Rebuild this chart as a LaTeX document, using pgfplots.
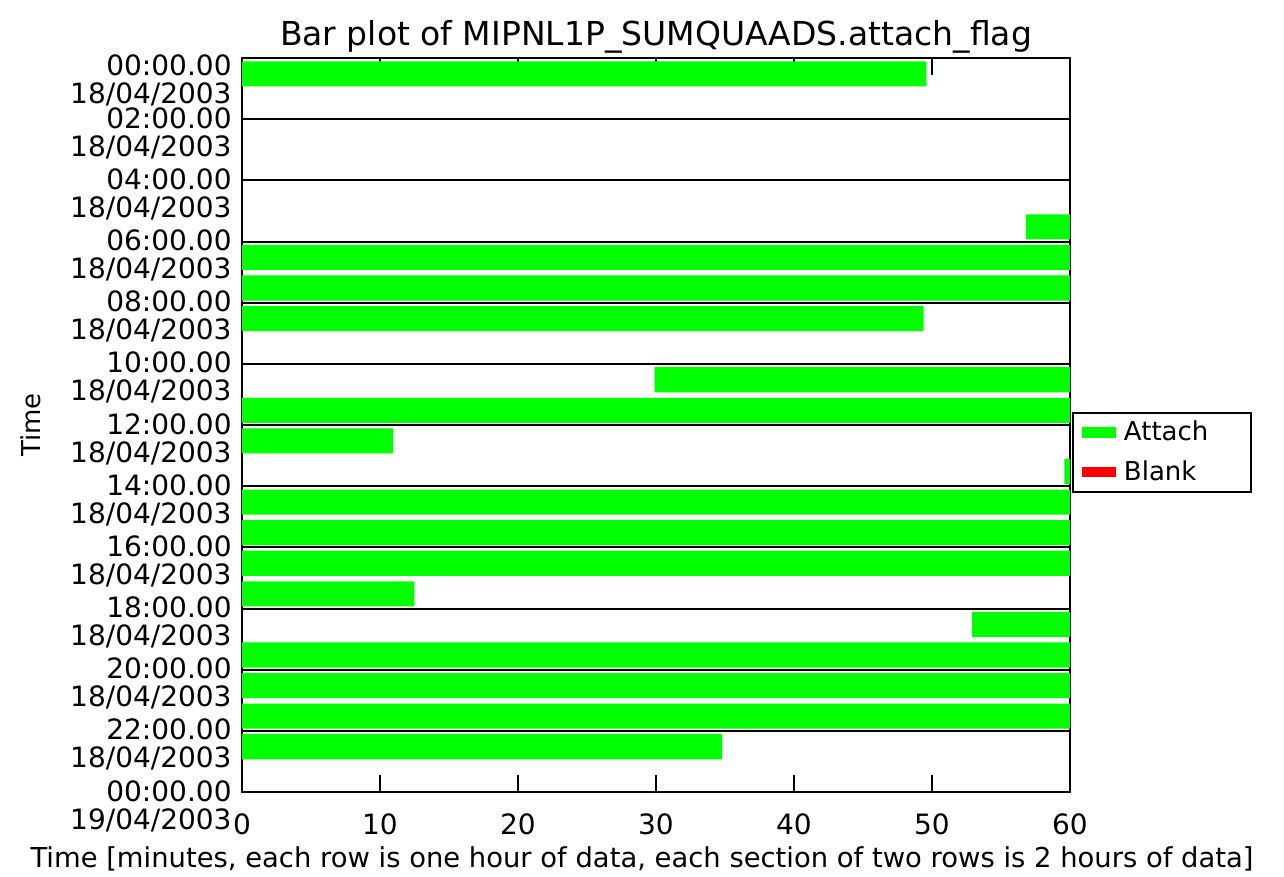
\documentclass[border=0pt]{standalone}
\usepackage{fontspec}
\setmainfont{DejaVu Sans}
\usepackage{pgfplots}
\pgfplotsset{compat=1.18}
\definecolor{attach}{RGB}{0,255,0}
\definecolor{blank}{RGB}{255,0,0}
\begin{document}
\begin{tikzpicture}
\begin{axis}[
  name=ax,
  scale only axis, width=414bp, height=367bp,
  xmin=0, xmax=60, ymin=0, ymax=24, y dir=reverse,
  xbar stacked, bar width=0.82,
  axis line style={line width=1bp, black},
  xtick={0,10,...,60},
  xtick pos=both, tick align=inside, major tick length=8.5bp,
  xtick style={line width=1bp, black},
  /pgf/number format/assume math mode=true,
  xticklabel style={font=\fontsize{14bp}{14bp}\selectfont, inner sep=0pt, yshift=-10.5bp},
  ytick={2,4,...,24},
  yticklabels={{02:00.00\\18/04/2003},{04:00.00\\18/04/2003},{06:00.00\\18/04/2003},
    {08:00.00\\18/04/2003},{10:00.00\\18/04/2003},{12:00.00\\18/04/2003},
    {14:00.00\\18/04/2003},{16:00.00\\18/04/2003},{18:00.00\\18/04/2003},
    {20:00.00\\18/04/2003},{22:00.00\\18/04/2003},{00:00.00\\19/04/2003}},
  extra y ticks={0},
  extra y tick labels={{00:00.00\\18/04/2003}},
  extra y tick style={yticklabel style={yshift=-4bp}},
  ytick style={draw=none},
  yticklabel style={align=right, anchor=east, inner sep=0pt, xshift=-5bp, yshift=-7bp,
    font=\fontsize{14bp}{14bp}\selectfont},
  ymajorgrids, grid style={line width=1bp, black},
  every axis title shift=0pt,
  title={Bar plot of MIPNL1P\_SUMQUAADS.attach\_flag},
  title style={at={(axis description cs:0.5,1.0177)}, anchor=base,
    inner sep=0pt, font=\fontsize{16.5bp}{16.5bp}\selectfont},
  xlabel={Time [minutes, each row is one hour of data, each section of two rows is 2 hours of data]},
  xlabel style={at={(axis description cs:0.4831,-0.0654)}, anchor=north,
    font=\fontsize{13.7bp}{13.7bp}\selectfont},
  ylabel={Time},
  ylabel style={at={(axis description cs:-0.2548,0.5)}, anchor=center,
    font=\fontsize{13bp}{13bp}\selectfont},
  legend cell align=left,
  legend image code/.code={\fill (0bp,-2.6bp) rectangle (17bp,2.6bp);},
  legend style={at={(axis description cs:1.0024,0.5177)}, anchor=north west,
    draw=black, line width=1bp, font=\fontsize{13bp}{13bp}\selectfont,
    inner xsep=4.5bp, inner ysep=2bp, row sep=4.6bp,
    /tikz/every odd column/.append style={column sep=2bp}},
]
% invisible offsets (start of each bar, minutes)
\addplot[draw=none, fill=none, forget plot] coordinates {
(0,0.52) (0,1.52) (0,2.52) (0,3.52) (0,4.52) (56.8,5.52) (0,6.52) (0,7.52)
(0,8.52) (0,9.52) (29.9,10.52) (0,11.52) (0,12.52) (59.6,13.52) (0,14.52) (0,15.52)
(0,16.52) (0,17.52) (52.9,18.52) (0,19.52) (0,20.52) (0,21.52) (0,22.52) (0,23.52)};
% attached lengths (minutes)
\addplot[draw=none, fill=attach] coordinates {
(49.6,0.52) (0,1.52) (0,2.52) (0,3.52) (0,4.52) (3.2,5.52) (60,6.52) (60,7.52)
(49.4,8.52) (0,9.52) (30.1,10.52) (60,11.52) (10.95,12.52) (0.4,13.52) (60,14.52) (60,15.52)
(60,16.52) (12.5,17.52) (7.1,18.52) (60,19.52) (60,20.52) (60,21.52) (34.8,22.52) (0,23.52)};
\addlegendentry{\makebox[57bp][l]{Attach}}
\addlegendimage{draw=none, fill=blank}
\addlegendentry{\makebox[57bp][l]{Blank}}
\end{axis}
\pgfresetboundingbox
\path (ax.south west) ++(-121bp,-42.5bp) rectangle ++(642bp,438.5bp);
\end{tikzpicture}
\end{document}
